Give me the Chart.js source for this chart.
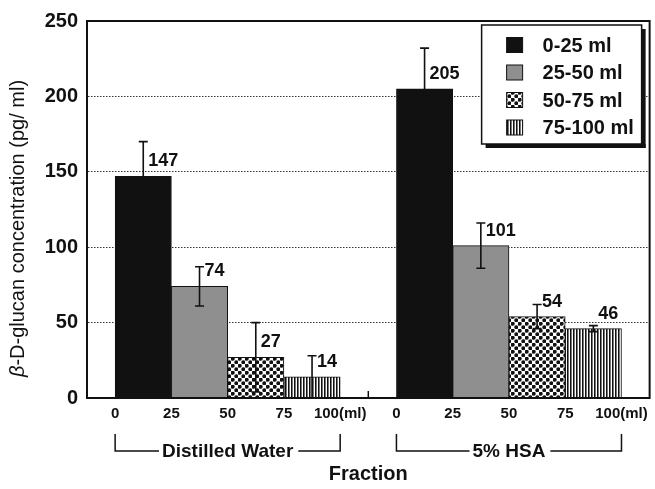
<!DOCTYPE html>
<html>
<head>
<meta charset="utf-8">
<script src="https://cdn.jsdelivr.net/npm/chart.js@4.4.1/dist/chart.umd.min.js"></script>
<style>
  html, body { margin: 0; padding: 0; background: #fff; }
</style>
</head>
<body>
<canvas id="fraction-chart" width="655" height="489"></canvas>
<script>
// values
var fractionLabels = ['0-25 ml', '25-50 ml', '50-75 ml', '75-100 ml'];
var groupLabels = ['Distilled Water', '5% HSA'];
var waterMeans = [147, 74, 27, 14];
var waterErrors = [23, 13, 23, 14];
var hsaMeans = [205, 101, 54, 46];
var hsaErrors = [27, 15, 8, 2];
var xTickValues = [0, 25, 50, 75, 100, 125, 150, 175, 200, 225];
var xTickLabels = ['0', '25', '50', '75', '100(ml)', '0', '25', '50', '75', '100(ml)'];
var yTickValues = [0, 50, 100, 150, 200, 250];

var FONT = "'Liberation Sans', Arial, sans-serif";
var fractionWidth = 25;                       // ml per fraction
var groupSpan = fractionLabels.length * fractionWidth;  // 100 ml
var groupStep = groupSpan + fractionWidth;    // one empty fraction between groups

var canvas = document.getElementById('fraction-chart');
var ctx = canvas.getContext('2d');

function makeDots() {
    var c = document.createElement('canvas');
    c.width = 7; c.height = 7;
    var g = c.getContext('2d');
    g.fillStyle = '#fff';
    g.fillRect(0, 0, 7, 7);
    g.fillStyle = '#111';
    g.beginPath();
    g.arc(1.75, 1.75, 2, 0, Math.PI * 2);
    g.moveTo(7.25, 5.25);
    g.arc(5.25, 5.25, 2, 0, Math.PI * 2);
    g.fill();
    return ctx.createPattern(c, 'repeat');
}

function makeStripes() {
    var c = document.createElement('canvas');
    c.width = 3; c.height = 4;
    var g = c.getContext('2d');
    g.fillStyle = '#fff';
    g.fillRect(0, 0, 3, 4);
    g.fillStyle = '#111';
    g.fillRect(0, 0, 1, 4);
    g.fillStyle = '#777';
    g.fillRect(1, 0, 1, 4);
    return ctx.createPattern(c, 'repeat');
}

var fills = ['#111', '#8f8f8f', makeDots(), makeStripes()];

var datasets = fractionLabels.map(function (lab, i) {
    var means = [waterMeans[i], hsaMeans[i]];
    return {
        label: lab,
        data: means.map(function (m, g) {
            return { x: g * groupStep + i * fractionWidth + fractionWidth / 2, y: m };
        }),
        errors: [waterErrors[i], hsaErrors[i]],
        backgroundColor: fills[i],
        borderColor: '#111',
        borderWidth: 1,
        grouped: false,
        barPercentage: 1,
        categoryPercentage: 1
    };
});

// error bars + value labels
var errorBars = {
    id: 'errorBars',
    afterDatasetsDraw: function (chart) {
        var c = chart.ctx, ys = chart.scales.y;
        c.save();
        c.strokeStyle = '#111';
        c.fillStyle = '#111';
        c.lineWidth = 1.6;
        c.font = 'bold 18px ' + FONT;
        c.textAlign = 'left';
        c.textBaseline = 'middle';
        chart.data.datasets.forEach(function (ds, di) {
            chart.getDatasetMeta(di).data.forEach(function (bar, j) {
                var v = ds.data[j].y, e = ds.errors[j];
                var top = ys.getPixelForValue(v + e);
                var bot = ys.getPixelForValue(v - e);
                c.beginPath();
                c.moveTo(bar.x, top); c.lineTo(bar.x, bot);
                c.moveTo(bar.x - 4.5, top); c.lineTo(bar.x + 4.5, top);
                c.moveTo(bar.x - 4.5, bot); c.lineTo(bar.x + 4.5, bot);
                c.stroke();
                c.fillText(String(v), bar.x + 5, bar.y - 15);
            });
        });
        c.restore();
    }
};

// frame, separator tick, brackets, y title, legend box
var decorations = {
    id: 'decorations',
    afterDraw: function (chart) {
        var c = chart.ctx, a = chart.chartArea, xs = chart.scales.x;
        c.save();
        c.strokeStyle = '#111';
        c.lineWidth = 2;
        c.strokeRect(a.left, a.top, a.right - a.left, a.bottom - a.top);

        var sepX = xs.getPixelForValue(groupSpan + fractionWidth / 2);
        c.lineWidth = 1.5;
        c.beginPath();
        c.moveTo(sepX, a.bottom); c.lineTo(sepX, a.bottom - 7);
        c.stroke();

        // group brackets
        c.font = 'bold 19px ' + FONT;
        c.fillStyle = '#111';
        c.textAlign = 'center';
        c.textBaseline = 'alphabetic';
        groupLabels.forEach(function (name, g) {
            var x0 = xs.getPixelForValue(g * groupStep);
            var x1 = xs.getPixelForValue(g * groupStep + groupSpan);
            var yT = a.bottom + 36, yB = a.bottom + 53;
            var mid = (x0 + x1) / 2;
            var w = c.measureText(name).width;
            c.fillText(name, mid, a.bottom + 58.5);
            c.beginPath();
            c.moveTo(x0, yT); c.lineTo(x0, yB); c.lineTo(mid - w / 2 - 3, yB);
            c.moveTo(mid + w / 2 + 5, yB); c.lineTo(x1, yB); c.lineTo(x1, yT);
            c.stroke();
        });

        // y axis title with italic beta
        var beta = '\u03b2', rest = '-D-glucan concentration (pg/ ml)';
        c.save();
        c.translate(18, (a.top + a.bottom) / 2 + 19);
        c.rotate(-Math.PI / 2);
        c.textAlign = 'left';
        c.textBaseline = 'middle';
        c.font = 'italic 20px ' + FONT;
        var wb = c.measureText(beta).width;
        c.font = '20px ' + FONT;
        var wr = c.measureText(rest).width;
        var sx = -(wb + wr) / 2;
        c.font = 'italic 20px ' + FONT;
        c.fillText(beta, sx, 0);
        c.font = '20px ' + FONT;
        c.fillText(rest, sx + wb, 0);
        c.restore();

        // legend
        var bx = a.right - 168, by = a.top + 4, bw = 160, bh = 119;
        c.fillStyle = '#fff';
        c.fillRect(bx, by, bw, bh);
        c.lineWidth = 1.5;
        c.strokeRect(bx, by, bw, bh);
        c.fillStyle = '#111';
        c.fillRect(bx + bw, by + 4, 4, bh);
        c.fillRect(bx + 4, by + bh, bw, 4);
        c.font = 'bold 20px ' + FONT;
        c.textAlign = 'left';
        c.textBaseline = 'middle';
        chart.data.datasets.forEach(function (ds, i) {
            var cy = by + 20 + i * 27.5;
            c.fillStyle = ds.backgroundColor;
            c.fillRect(bx + 25, cy - 7.5, 16, 15);
            c.lineWidth = 1;
            c.strokeRect(bx + 25, cy - 7.5, 16, 15);
            c.fillStyle = '#111';
            c.fillText(ds.label, bx + 61, cy + 1);
        });
        c.restore();
    }
};

var myChart = new Chart(ctx, {
    type: 'bar',
    data: { datasets: datasets },
    options: {
        responsive: false,
        animation: false,
        layout: { padding: { top: 18, right: 5, left: 0, bottom: 0 } },
        plugins: { legend: { display: false }, tooltip: { enabled: false } },
        scales: {
            x: {
                type: 'linear',
                offset: false,
                min: -fractionWidth / 2,
                max: 2 * groupSpan + fractionWidth + fractionWidth / 2,
                afterBuildTicks: function (s) {
                    s.ticks = xTickValues.map(function (v) { return { value: v }; });
                },
                afterFit: function (s) { s.height = 91; },
                grid: { display: false, drawTicks: false },
                border: { display: true, color: '#111', width: 2 },
                ticks: {
                    autoSkip: false,
                    maxRotation: 0,
                    minRotation: 0,
                    padding: 7,
                    color: '#111',
                    font: { family: FONT, size: 15, weight: 'bold' },
                    callback: function (v, i) { return xTickLabels[i]; }
                },
                title: {
                    display: true,
                    text: 'Fraction',
                    color: '#111',
                    font: { family: FONT, size: 20, weight: 'bold' },
                    padding: { top: 0, bottom: 3 }
                }
            },
            y: {
                min: 0,
                max: 250,
                afterBuildTicks: function (s) {
                    s.ticks = yTickValues.map(function (v) { return { value: v }; });
                },
                afterFit: function (s) { s.width = 87; },
                grid: { color: '#333', lineWidth: 1, drawTicks: false },
                border: { display: true, color: '#111', width: 2, dash: [1.5, 1.5] },
                ticks: {
                    padding: 9,
                    color: '#111',
                    font: { family: FONT, size: 20, weight: 'bold' }
                }
            }
        }
    },
    plugins: [errorBars, decorations]
});
</script>
</body>
</html>
